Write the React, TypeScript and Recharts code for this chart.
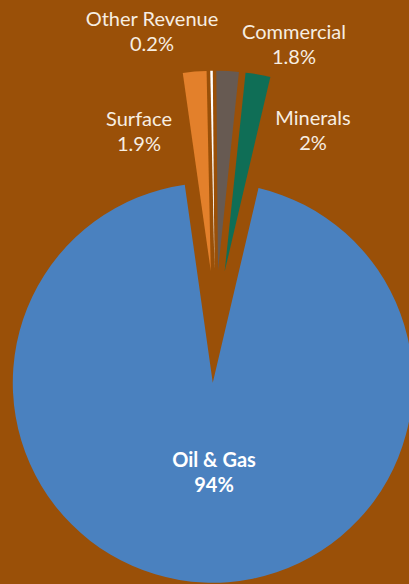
import { PieChart, Pie, Cell } from 'recharts';

// revenue share by source (%)
const NAMES = ['Surface', 'Other Revenue', 'Commercial', 'Minerals', 'Oil & Gas'];
const VALUES = [1.9, 0.2, 1.8, 2, 94];

const COLORS = ['#e3802b', '#ffffff', '#675a52', '#0f6e56', '#4a81bf'];
const BG = '#9a5008';

// label anchors (centre x, baseline of first line)
const LABEL_POS: Record<string, { x: number; y: number }> = {
    'Surface': { x: 139, y: 126 },
    'Other Revenue': { x: 152, y: 26 },
    'Commercial': { x: 294, y: 39 },
    'Minerals': { x: 313, y: 125 },
    'Oil & Gas': { x: 214, y: 467 },
};

const W = 409;
const H = 584;
const CX = 215.3;
const CY = 326.8;
const RADIUS = 200;
const START = 98.05;
const EXPLODE = 56;

const data = NAMES.map((name, i) => ({ name, value: VALUES[i] }));
const total = VALUES.reduce((s, v) => s + v, 0);

// every slice is pulled out along its own bisector
let acc = 0;
const offsets = VALUES.map((v) => {
    const mid = START - ((acc + v / 2) / total) * 360;
    acc += v;
    const rad = (mid * Math.PI) / 180;
    return { dx: EXPLODE * Math.cos(rad), dy: -EXPLODE * Math.sin(rad) };
});

const renderLabel = (props: any) => {
    const name = NAMES[props.index];
    const pos = LABEL_POS[name];
    const big = name === 'Oil & Gas';
    const style = {
        fontFamily: 'Lato, sans-serif',
        fontSize: 20,
        fontWeight: big ? 700 : 400,
        fill: big ? '#ffffff' : '#f7eee2',
    };
    return (
        <g key={name}>
            <text x={pos.x} y={pos.y} textAnchor="middle" style={style}>{name}</text>
            <text x={pos.x} y={pos.y + 25} textAnchor="middle" style={style}>{VALUES[props.index]}%</text>
        </g>
    );
};

export default function App() {
    return (
        <div style={{ position: 'fixed', left: 0, top: 0, width: W, height: H, background: BG, overflow: 'hidden' }}>
            <PieChart width={W} height={H} margin={{ top: 0, right: 0, bottom: 0, left: 0 }}>
                {VALUES.map((_, k) => (
                    <Pie
                        key={k}
                        data={data}
                        dataKey="value"
                        nameKey="name"
                        cx={CX + offsets[k].dx}
                        cy={CY + offsets[k].dy}
                        innerRadius={0}
                        outerRadius={RADIUS}
                        startAngle={START}
                        endAngle={START - 360}
                        stroke="none"
                        isAnimationActive={false}
                        label={k === VALUES.length - 1 ? renderLabel : false}
                        labelLine={false}
                    >
                        {data.map((d, i) => (
                            <Cell key={d.name} fill={i === k ? COLORS[i] : 'transparent'} />
                        ))}
                    </Pie>
                ))}
            </PieChart>
        </div>
    );
}
